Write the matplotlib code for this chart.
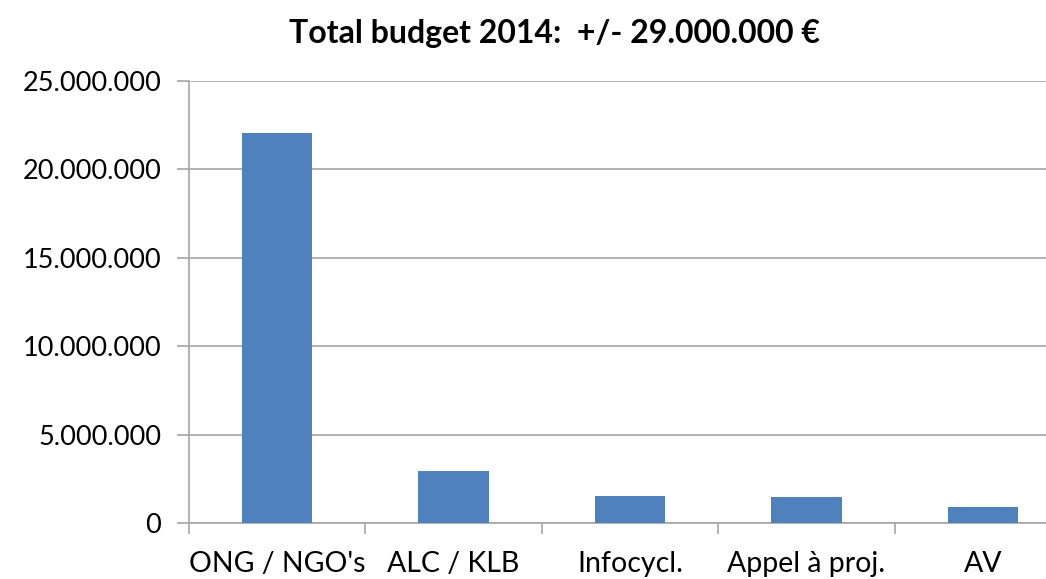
import matplotlib.pyplot as plt
from matplotlib.ticker import FuncFormatter, FixedLocator

# Datos
categories = ["ONG / NGO's", "ALC / KLB", "Infocycl.", "Appel à proj.", "AV"]
budget = [22080000, 2920000, 1510000, 1450000, 890000]
y_ticks = [0, 5000000, 10000000, 15000000, 20000000, 25000000]
title = "Total budget 2014:  +/- 29.000.000 €"

plt.rcParams["font.family"] = ["Lato", "DejaVu Sans"]

W, H = 1046, 579
fig = plt.figure(figsize=(W / 100, H / 100), dpi=100)
ax = fig.add_axes([189 / W, (H - 523) / H, (1071 - 189) / W, (523 - 81) / H])

x = list(range(len(categories)))
ax.bar(x, budget, width=0.40, color="#4F81BD", zorder=3)

grid_c = "#A6A6A6"
ax.set_ylim(0, 25000000)
ax.set_xlim(-0.5, len(categories) - 0.5)
ax.set_yticks(y_ticks)
ax.yaxis.set_major_formatter(FuncFormatter(lambda v, p: "{:,.0f}".format(v).replace(",", ".")))
ax.grid(axis="y", color=grid_c, linewidth=1.2, zorder=0)

# ticks x en los limites, etiquetas al centro
ax.xaxis.set_major_locator(FixedLocator([i - 0.5 for i in range(len(categories) + 1)]))
ax.xaxis.set_major_formatter(FuncFormatter(lambda v, p: ""))
ax.xaxis.set_minor_locator(FixedLocator(x))
ax.set_xticklabels(categories, minor=True)
ax.tick_params(axis="x", which="major", length=8, color=grid_c, width=1.2)
ax.tick_params(axis="x", which="minor", length=0, pad=20, labelsize=20.5)
ax.tick_params(axis="y", length=9, color=grid_c, width=1.2, labelsize=19.5, pad=11)

for side in ["top", "right"]:
    ax.spines[side].set_visible(False)
for side in ["left", "bottom"]:
    ax.spines[side].set_color(grid_c)
    ax.spines[side].set_linewidth(1.2)

fig.text(554 / W, 1 - 33 / H, title, ha="center", va="center", fontsize=23, fontweight="bold")

plt.savefig("out.png", dpi=100)
plt.close()
